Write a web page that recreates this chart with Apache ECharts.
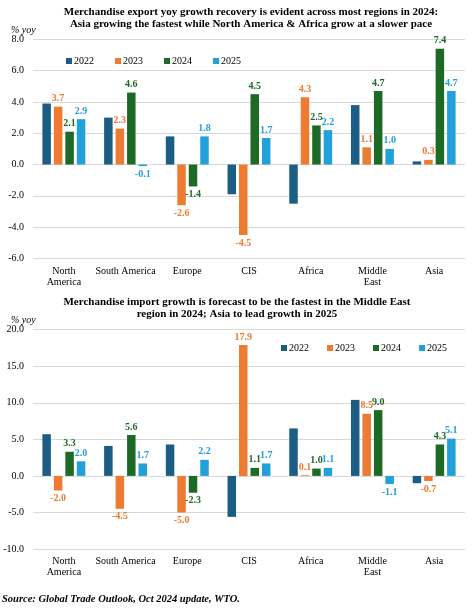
<!DOCTYPE html>
<html><head><meta charset="utf-8">
<script src="https://cdn.jsdelivr.net/npm/echarts@6/dist/echarts.min.js"></script>
<style>html,body{margin:0;padding:0;background:#fff}#c{width:474px;height:613px}</style>
</head><body><div id="c"></div>
<script>
const categories = ['North\nAmerica','South America','Europe','CIS','Africa','Middle\nEast','Asia'];
const years = ['2022','2023','2024','2025'];
const colors = ['#1c5d83','#ed7b31','#1d6a27','#21a0da'];

const exp2022 = [3.9, 3.0, 1.8, -1.9, -2.5, 3.8, 0.2];
const exp2023 = [3.7, 2.3, -2.6, -4.5, 4.3, 1.1, 0.3];
const exp2024 = [2.1, 4.6, -1.4, 4.5, 2.5, 4.7, 7.4];
const exp2025 = [2.9, -0.1, 1.8, 1.7, 2.2, 1.0, 4.7];

const imp2022 = [5.7, 4.1, 4.3, -5.6, 6.5, 10.4, -1.0];
const imp2023 = [-2.0, -4.5, -5.0, 17.9, 0.1, 8.5, -0.7];
const imp2024 = [3.3, 5.6, -2.3, 1.1, 1.0, 9.0, 4.3];
const imp2025 = [2.0, 1.7, 2.2, 1.7, 1.1, -1.1, 5.1];

const expTicks = {min: -6, max: 8, interval: 2};
const impTicks = {min: -10, max: 20, interval: 5};

const title1 = 'Merchandise export yoy growth recovery is evident across most regions in 2024:\nAsia growing the fastest while North America & Africa grow at a slower pace';
const title2 = 'Merchandise import growth is forecast to be the fastest in the Middle East\nregion in 2024; Asia to lead growth in 2025';
const unitLabel = '% yoy';
const sourceText = 'Source: Global Trade Outlook, Oct 2024 update, WTO.';

const SERIF = '"Liberation Serif", "Times New Roman", serif';

function mkSeries(data, idx, axisIdx, showLabel) {
  return {
    name: years[idx], type: 'bar', xAxisIndex: axisIdx, yAxisIndex: axisIdx,
    data: data.map(v => ({
      value: v,
      label: {position: v < 0 ? 'bottom' : 'top'}
    })),
    barWidth: 8.5, barGap: '35%',
    itemStyle: {color: colors[idx]},
    label: {
      show: showLabel, color: colors[idx], fontFamily: SERIF, fontWeight: 'bold', fontSize: 10,
      distance: 3, formatter: p => p.value.toFixed(1)
    }
  };
}

const expData = [exp2022, exp2023, exp2024, exp2025];
const impData = [imp2022, imp2023, imp2024, imp2025];
const series = [];
expData.forEach((d, i) => series.push(mkSeries(d, i, 0, i > 0)));
impData.forEach((d, i) => series.push(mkSeries(d, i, 1, i > 0)));

function xAx(gi) {
  return {
    type: 'category', gridIndex: gi, data: categories,
    axisLine: {show: false, onZero: false}, axisTick: {show: false},
    axisLabel: {fontFamily: SERIF, fontSize: 10, color: '#000', lineHeight: 11, margin: 7, interval: 0}
  };
}
function yAx(gi, t) {
  return {
    type: 'value', gridIndex: gi, min: t.min, max: t.max, interval: t.interval,
    axisLine: {show: false}, axisTick: {show: false},
    splitLine: {lineStyle: {color: '#d9d9d9', width: 1}},
    axisLabel: {fontFamily: SERIF, fontSize: 10, color: '#000', margin: 9, formatter: v => v.toFixed(1)}
  };
}

const chart = echarts.init(document.getElementById('c'));
chart.setOption({
  animation: false,
  textStyle: {fontFamily: SERIF},
  grid: [
    {left: 33, right: 9, top: 39.4, height: 219},
    {left: 33, right: 9, top: 329.7, height: 219.3}
  ],
  xAxis: [xAx(0), xAx(1)],
  yAxis: [yAx(0, expTicks), yAx(1, impTicks)],
  legend: [
    {data: years, left: 61, top: 51, icon: 'rect', itemWidth: 6, itemHeight: 6, itemGap: 21,
     textStyle: {fontFamily: SERIF, fontSize: 10, color: '#000', padding: [0, 0, 0, -3]}},
    {data: years, left: 276, top: 338, icon: 'rect', itemWidth: 6, itemHeight: 6, itemGap: 18,
     textStyle: {fontFamily: SERIF, fontSize: 10, color: '#000', padding: [0, 0, 0, -3]}}
  ],
  graphic: [
    {type: 'text', x: 251, y: 18, style: {text: title1, font: 'bold 11px ' + SERIF, fill: '#000', align: 'center', verticalAlign: 'middle', lineHeight: 12.5}},
    {type: 'text', x: 237, y: 308, style: {text: title2, font: 'bold 11px ' + SERIF, fill: '#000', align: 'center', verticalAlign: 'middle', lineHeight: 12.5}},
    {type: 'text', x: 11, y: 30, style: {text: unitLabel, font: 'italic 10px ' + SERIF, fill: '#000', verticalAlign: 'middle'}},
    {type: 'text', x: 11, y: 320, style: {text: unitLabel, font: 'italic 10px ' + SERIF, fill: '#000', verticalAlign: 'middle'}},
    {type: 'text', x: 2, y: 599, style: {text: sourceText, font: 'italic bold 10.5px ' + SERIF, fill: '#000', verticalAlign: 'middle'}}
  ],
  series: series
});
</script></body></html>
